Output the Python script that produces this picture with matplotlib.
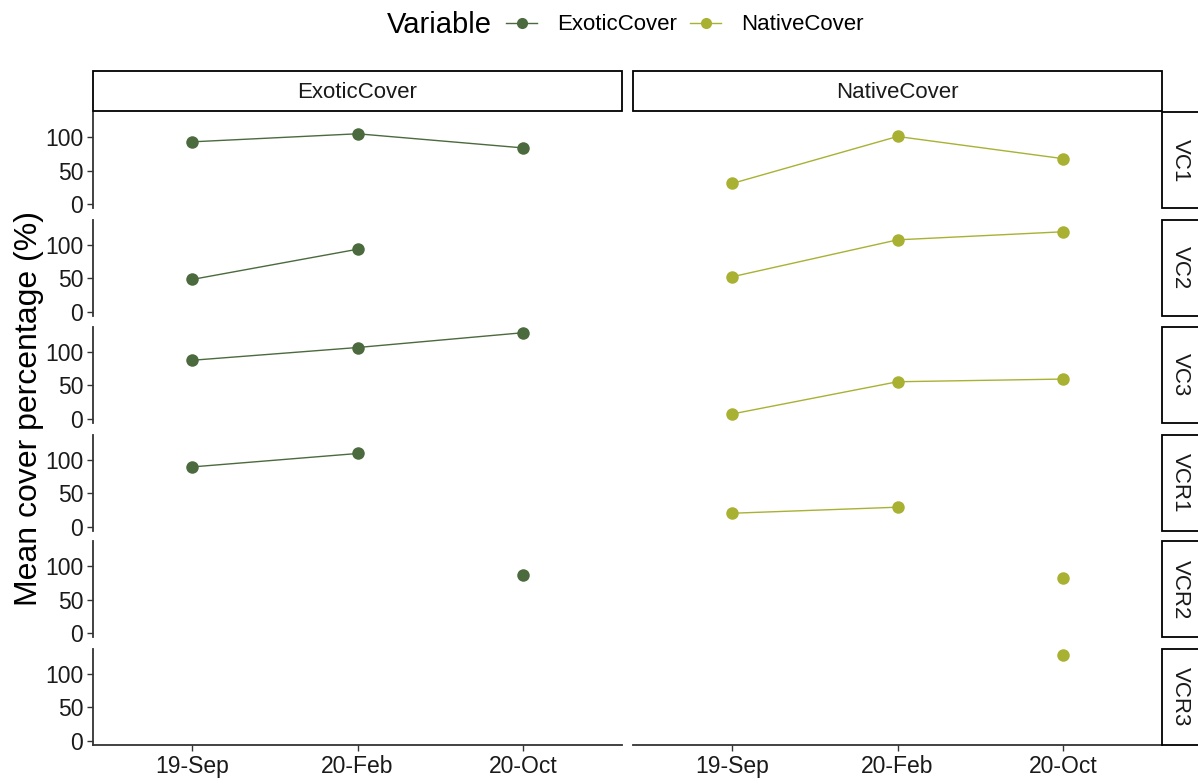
import numpy as np
import matplotlib.pyplot as plt
from matplotlib.patches import Rectangle
from matplotlib.lines import Line2D

plt.rcParams['font.family'] = ['Liberation Sans', 'DejaVu Sans']

# data
dates = ['19-Sep', '20-Feb', '20-Oct']
sites = ['VC1', 'VC2', 'VC3', 'VCR1', 'VCR2', 'VCR3']
variables = ['ExoticCover', 'NativeCover']
colors = {'ExoticCover': '#4b6a3d', 'NativeCover': '#a9b133'}

exotic = [
    [93, 105, 84],
    [48, 93, np.nan],
    [87, 106, 128],
    [89, 109, np.nan],
    [np.nan, np.nan, 87],
    [np.nan, np.nan, np.nan],
]
native = [
    [31, 101, 68],
    [52, 107, 119],
    [7, 55, 59],
    [20, 29, np.nan],
    [np.nan, np.nan, 83],
    [np.nan, np.nan, 128],
]
values = {'ExoticCover': exotic, 'NativeCover': native}

W, H = 1198, 784
fig = plt.figure(figsize=(W / 100, H / 100), dpi=100)

# layout in pixels
col_x = [93, 633]
col_w = 529
row_bottom = [208.3, 315.7, 422.7, 530.7, 637.3, 745]
row_h = 96


def rect(x, ytop, w, h):
    return [x / W, 1 - (ytop + h) / H, w / W, h / H]


xpos = np.arange(1, len(dates) + 1)
for ci, var in enumerate(variables):
    for ri, site in enumerate(sites):
        ax = fig.add_axes(rect(col_x[ci], row_bottom[ri] - row_h, col_w, row_h))
        y = np.array(values[var][ri], dtype=float)
        ax.plot(xpos, y, color=colors[var], linewidth=1.0, marker='o',
                markersize=9, markeredgewidth=0)
        ax.set_xlim(0.4, 3.6)
        ax.set_ylim(-6, 137)
        ax.set_yticks([0, 50, 100])
        ax.set_xticks(xpos)
        for s in ['top', 'right']:
            ax.spines[s].set_visible(False)
        ax.spines['left'].set_color('#333333')
        ax.spines['bottom'].set_color('#333333')
        ax.spines['left'].set_linewidth(1.3)
        ax.spines['bottom'].set_linewidth(1.3)
        ax.tick_params(colors='#333333', labelcolor='#1a1a1a', labelsize=16.5,
                       length=4.5, width=1.0, pad=2.5)
        if ci == 0:
            ax.set_yticklabels(['0', '50', '100'])
        else:
            ax.spines['left'].set_visible(False)
            ax.tick_params(axis='y', left=False, labelleft=False)
        if ri == len(sites) - 1:
            ax.set_xticklabels(dates)
        else:
            ax.spines['bottom'].set_visible(False)
            ax.tick_params(axis='x', bottom=False, labelbottom=False)

        # row strips on the right
        if ci == 1:
            x0 = col_x[1] + col_w
            fig.patches.append(Rectangle((x0 / W, 1 - row_bottom[ri] / H), 40 / W, row_h / H,
                                         transform=fig.transFigure, facecolor='white',
                                         edgecolor='black', linewidth=1.3))
            fig.text((x0 + 18) / W, 1 - (row_bottom[ri] - row_h / 2) / H, site,
                     rotation=270, ha='center', va='center', fontsize=16,
                     color='#1a1a1a')

    # column strips on top
    fig.patches.append(Rectangle((col_x[ci] / W, 1 - 111 / H), col_w / W, 40 / H,
                                 transform=fig.transFigure, facecolor='white',
                                 edgecolor='black', linewidth=1.3))
    fig.text((col_x[ci] + col_w / 2) / W, 1 - 92 / H, var, ha='center', va='center',
             fontsize=16, color='#1a1a1a')

# y label
fig.text(29 / W, 1 - 408 / H, 'Mean cover percentage (%)', rotation=90,
         ha='center', va='center', fontsize=23)

# legend
fig.text(492 / W, 1 - 25 / H, 'Variable', ha='right', va='center', fontsize=21)
handles = [Line2D([0], [0], color=colors[v], linewidth=1.0, marker='o',
                  markersize=8, markeredgewidth=0) for v in variables]
fig.legend(handles, variables, loc='center left', bbox_to_anchor=(506 / W, 1 - 25 / H),
           ncol=2, frameon=False, fontsize=16, handlelength=1.4,
           handletextpad=0.9, columnspacing=0.6, borderaxespad=0, borderpad=0)

fig.savefig('out.png', dpi=100)
